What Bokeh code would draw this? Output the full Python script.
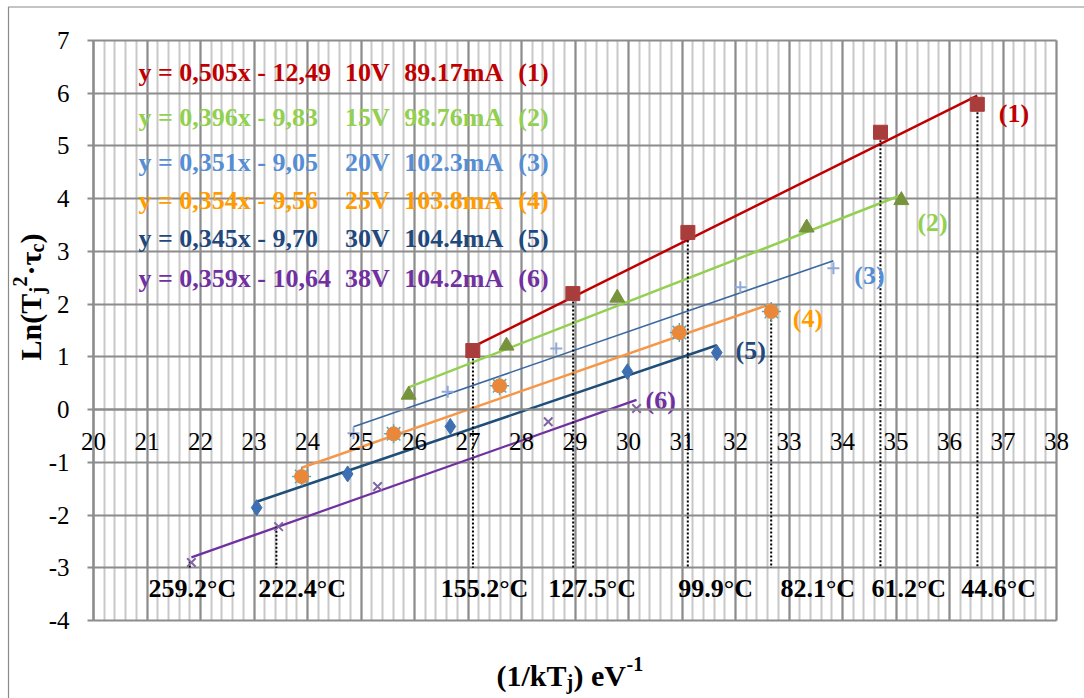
import math
from bokeh.plotting import figure
from bokeh.models import ColumnDataSource, SingleIntervalTicker, Label, Range1d
from bokeh.core.properties import value
from bokeh.embed import file_html
from bokeh.resources import INLINE

# ---------------- data ----------------
s1_x = [27.09, 28.96, 31.11, 34.71, 36.52]
s1_y = [1.12, 2.20, 3.36, 5.26, 5.79]
s2_x = [25.89, 27.72, 29.79, 33.33, 35.10]
s2_y = [0.28, 1.21, 2.12, 3.45, 3.97]
s3_x = [24.86, 26.62, 28.65, 32.09, 33.83]
s3_y = [-0.45, 0.34, 1.16, 2.32, 2.68]
s4_x = [23.89, 25.61, 27.59, 30.95, 32.67]
s4_y = [-1.27, -0.46, 0.45, 1.46, 1.86]
s5_x = [23.05, 24.75, 26.67, 29.98, 31.65]
s5_y = [-1.86, -1.22, -0.32, 0.72, 1.08]
s6_x = [21.83, 23.46, 25.31, 28.50, 30.15]
s6_y = [-2.90, -2.22, -1.46, -0.23, 0.02]

slopes = [0.505, 0.396, 0.351, 0.354, 0.345, 0.359]
intercepts = [-12.49, -9.83, -9.05, -9.56, -9.70, -10.64]
voltages = ["10V", "15V", "20V", "25V", "30V", "38V"]
currents = ["89.17mA", "98.76mA", "102.3mA", "103.8mA", "104.4mA", "104.2mA"]
tags = ["(1)", "(2)", "(3)", "(4)", "(5)", "(6)"]

temps_c = [259.2, 222.4, 155.2, 127.5, 99.9, 82.1, 61.2, 44.6]
temp_top_y = [-2.88, -2.22, 1.12, 2.20, 3.36, 1.86, 5.26, 5.79]
K_B = 8.617e-5  # eV/K

x_min, x_max = 20, 38
y_min, y_max = -4, 7
y_ticks = list(range(y_min, y_max + 1))

# ---------------- layout (pixels) ----------------
W, H = 1084, 698
FX0, FX1, FY0, FY1 = 93, 1056, 40, 620      # pixel positions of x_min, x_max, y_max, y_min
ux = (FX1 - FX0) / (x_max - x_min)
uy = (FY1 - FY0) / (y_max - y_min)


def px_x(px):
    return x_min + (px - FX0) / ux


def px_y(py):
    return y_max - (py - FY0) / uy


series_x = [s1_x, s2_x, s3_x, s4_x, s5_x, s6_x]
text_colors = ["#C00000", "#92D050", "#558ED5", "#FF9C00", "#1F497D", "#7030A0"]
line_colors = ["#C00000", "#92D050", "#3A68A0", "#F79646", "#1F4E79", "#7030A0"]
line_widths = [2.5, 2.5, 1.6, 2.5, 2.5, 2.2]

legend_row_y = [6.39, 5.54, 4.69, 3.97, 3.24, 2.49]
eq_x, volt_x, curr_x, ltag_x = 20.84, 24.70, 25.81, 27.94
tag_pos_x = [36.92, 35.40, 34.22, 33.07, 32.00, 30.32]
tag_pos_y = [5.62, 3.55, 2.54, 1.73, 1.12, 0.17]
temp_label_x = [21.03, 23.08, 26.49, 28.50, 30.93, 32.84, 34.54, 36.22]
temp_label_y = -3.39
dot_bottom = -3.0

FONT = value("Liberation Serif")
GRID_MAJOR = "#8C8C8C"
GRID_MINOR = "#C8C8C8"

p = figure(width=W, height=H,
           x_range=Range1d(px_x(0), px_x(W)), y_range=Range1d(px_y(H), px_y(0)),
           output_backend="svg", toolbar_location=None,
           min_border=0, min_border_left=0, min_border_right=0,
           min_border_top=0, min_border_bottom=0)
p.background_fill_color = "white"
p.border_fill_color = "white"
p.outline_line_color = None

# chart-area border (left and top edges visible, the rest runs off the page)
p.quad(left=[px_x(8)], right=[px_x(W + 10)], top=[px_y(6.5)], bottom=[px_y(H + 10)],
       fill_color=None, line_color="#8A8A8A", line_width=1.2)

xt = SingleIntervalTicker(interval=1, num_minor_ticks=5)
yt = SingleIntervalTicker(interval=1, num_minor_ticks=0)
p.xaxis.ticker = xt
p.yaxis.ticker = yt
p.xgrid.ticker = xt
p.ygrid.ticker = yt
p.xgrid.bounds = (x_min, x_max)
p.xgrid.cross_bounds = (y_min, y_max)
p.ygrid.bounds = (y_min, y_max)
p.ygrid.cross_bounds = (x_min, x_max)
p.xgrid.grid_line_color = GRID_MAJOR
p.xgrid.grid_line_width = 2
p.xgrid.minor_grid_line_color = GRID_MINOR
p.xgrid.minor_grid_line_width = 2
p.ygrid.grid_line_color = GRID_MAJOR
p.ygrid.grid_line_width = 2

p.xaxis.fixed_location = 0
p.xaxis.bounds = (x_min, x_max)
p.xaxis.axis_line_color = GRID_MAJOR
p.xaxis.axis_line_width = 2
p.xaxis.major_tick_out = 0
p.xaxis.major_tick_in = 0
p.xaxis.minor_tick_out = 0
p.xaxis.minor_tick_in = 0
p.xaxis.major_label_standoff = 23

p.yaxis.fixed_location = x_min
p.yaxis.bounds = (y_min, y_max)
p.yaxis.axis_line_color = GRID_MAJOR
p.yaxis.axis_line_width = 2
p.yaxis.major_tick_line_color = GRID_MAJOR
p.yaxis.major_tick_line_width = 2
p.yaxis.major_tick_out = 6
p.yaxis.major_tick_in = 0
p.yaxis.minor_tick_line_color = None
p.yaxis.major_label_standoff = 18
p.yaxis.major_label_overrides = {t: str(t) for t in y_ticks}

for ax in (p.xaxis, p.yaxis):
    ax.major_label_text_font = "Liberation Serif"
    ax.major_label_text_font_size = "25px"
    ax.major_label_text_color = "#000000"

# trend lines from fitted equations
for xs, m, b, c, w in zip(series_x, slopes, intercepts, line_colors, line_widths):
    x0, x1 = min(xs), max(xs)
    p.line([x0, x1], [m * x0 + b, m * x1 + b], line_color=c, line_width=w)

# dotted verticals at the temperatures
temp_x = [1.0 / (K_B * (t + 273.15)) for t in temps_c]
p.segment(x0=temp_x, y0=temp_top_y, x1=temp_x, y1=[dot_bottom] * len(temp_x),
          line_color="black", line_width=2, line_dash="2 2")

# markers
p.scatter(s1_x, s1_y, marker="square", size=14, fill_color="#A93D3B", line_color="#A93D3B")
p.scatter(s2_x, s2_y, marker="triangle", size=15, fill_color="#77933C", line_color="#77933C")
p.scatter(s3_x, s3_y, marker="cross", size=12, line_color="#8EA9DB", line_width=2)
p.scatter(s4_x, s4_y, marker="asterisk", size=19, line_color="#4BACC6", line_width=1.5)
p.scatter(s4_x, s4_y, marker="circle", size=14, fill_color="#E9873A", line_color="#E9873A")
p.scatter(s5_x, s5_y, marker="diamond", size=16, fill_color="#3D6FB2", line_color="#3D6FB2")
p.scatter(s6_x, s6_y, marker="x", size=12, line_color="#8064A2", line_width=2)

# legend-like text rows
eq_text = ["y = " + f"{m:.3f}".replace(".", ",") + "x - " + f"{abs(b):.2f}".replace(".", ",")
           for m, b in zip(slopes, intercepts)]
n = len(slopes)
for xs_pos, texts in ((eq_x, eq_text), (volt_x, voltages), (curr_x, currents), (ltag_x, tags)):
    src = ColumnDataSource(dict(x=[xs_pos] * n, y=legend_row_y, t=texts, c=text_colors))
    p.text(x="x", y="y", text="t", text_color="c", source=src, text_font=FONT,
           text_font_style="bold", text_font_size="26px", text_baseline="middle",
           text_align="left")

# series tags near curves
src = ColumnDataSource(dict(x=tag_pos_x, y=tag_pos_y, t=tags, c=text_colors))
p.text(x="x", y="y", text="t", text_color="c", source=src, text_font=FONT,
       text_font_style="bold", text_font_size="26px", text_baseline="middle", text_align="left")

# temperature labels
temp_text = [f"{t:.1f}°C" for t in temps_c]
src = ColumnDataSource(dict(x=temp_label_x, y=[temp_label_y] * len(temps_c), t=temp_text))
p.text(x="x", y="y", text="t", text_color="black", source=src, text_font=FONT,
       text_font_style="bold", text_font_size="26px", text_baseline="middle", text_align="left")


# axis titles built from pieces (sub/superscripts), positioned in pixels
def piece(txt, sx, sy, size, angle=0.0):
    p.add_layout(Label(x=px_x(sx), y=px_y(sy), text=txt,
                       text_font="Liberation Serif", text_font_style="bold",
                       text_font_size=f"{size}px", text_color="black", angle=angle,
                       text_align="left", text_baseline="alphabetic"))


# x title: "(1/kTj) eV-1"
bx, by = 496, 675
piece("(1/kT", bx, by, 30)
piece("j", bx + 70, by + 6, 20)
piece(") eV", bx + 77, by, 30)
piece("-1", bx + 130, by - 12, 20)

# y title: "Ln(Tj2·τc)" rotated
A = math.pi / 2
ybx, yby = 30, 360
piece("Ln(T", ybx, yby, 30, A)
piece("j", ybx + 6, yby - 67, 20, A)
piece("2", ybx - 11, yby - 74, 20, A)
piece("·τ", ybx, yby - 85, 30, A)
piece("c", ybx + 6, yby - 108, 20, A)
piece(")", ybx, yby - 117, 30, A)

open("out.html", "w").write(file_html(p, INLINE))
